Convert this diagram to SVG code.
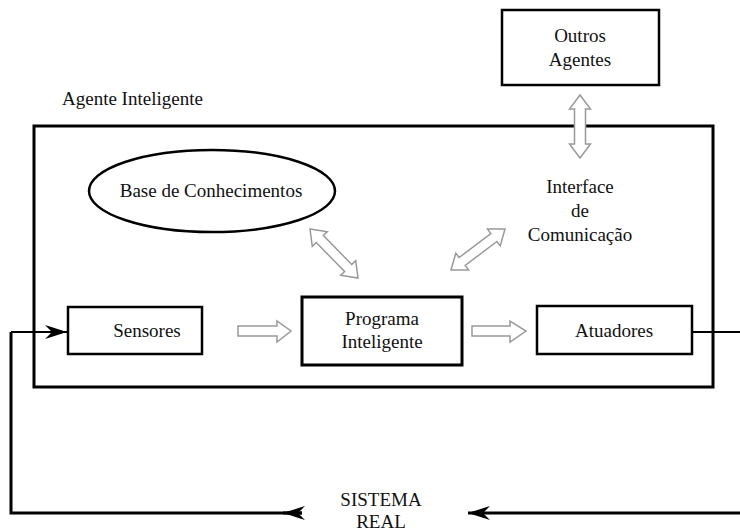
<svg xmlns="http://www.w3.org/2000/svg" width="740" height="531" viewBox="0 0 740 531">
  <defs>
    <style>
      .lbl { font-family: "Liberation Serif", "DejaVu Serif", "Times New Roman", serif; font-size: 19px; fill: #111; }
      .mid { text-anchor: middle; }
      .box { fill: #fff; stroke: #000; stroke-width: 2.5; }
      .thick { stroke-width: 3; }
      .wire { fill: none; stroke: #000; stroke-width: 2; }
      .bus { fill: none; stroke: #000; stroke-width: 3; }
      .hollow { fill: #fff; stroke: #999; stroke-width: 1.5; stroke-linejoin: miter; }
    </style>
    <marker id="head" viewBox="-24 -9 26 18" refX="0" refY="0" markerWidth="26" markerHeight="18" markerUnits="userSpaceOnUse" orient="auto">
      <path d="M0,0 L-22,-7 L-15,0 L-22,7 Z" fill="#000"/>
    </marker>
  </defs>

  <rect width="740" height="531" fill="#fff"/>

  <g font-family="Liberation Serif, DejaVu Serif, serif">
  <!-- agent boundary -->
  <g id="agente">
    <text class="lbl" x="62" y="105">Agente Inteligente</text>
    <rect x="34" y="126" width="679" height="261" fill="none" stroke="#000" stroke-width="3"/>
  </g>

  <g id="outros-agentes">
    <rect class="box" x="502" y="10" width="157" height="75"/>
    <text class="lbl mid" x="580" y="42">Outros</text>
    <text class="lbl mid" x="580" y="66">Agentes</text>
  </g>

  <g id="base-conhecimentos">
    <ellipse cx="212" cy="191" rx="123" ry="41" fill="#fff" stroke="#000" stroke-width="2.5"/>
    <text class="lbl mid" x="211" y="197">Base de Conhecimentos</text>
  </g>

  <g id="interface-comunicacao">
    <text class="lbl mid" x="580" y="193">Interface</text>
    <text class="lbl mid" x="580" y="217">de</text>
    <text class="lbl mid" x="580" y="241">Comunicação</text>
  </g>

  <g id="sensores">
    <rect class="box" x="68" y="307" width="134" height="47"/>
    <text class="lbl mid" x="147" y="337">Sensores</text>
  </g>

  <g id="programa-inteligente">
    <rect class="box thick" x="302" y="297" width="160" height="68"/>
    <text class="lbl mid" x="382" y="325">Programa</text>
    <text class="lbl mid" x="382" y="348">Inteligente</text>
  </g>

  <g id="atuadores">
    <rect class="box" x="537" y="306" width="155" height="48"/>
    <text class="lbl mid" x="614" y="337">Atuadores</text>
  </g>

  <g id="sistema-real">
    <text class="lbl mid" x="381" y="506">SISTEMA</text>
    <text class="lbl mid" x="381" y="528">REAL</text>
  </g>
  </g>

  <g id="connectors">
    <!-- hollow flow arrows inside the agent -->
    <path class="hollow" d="M238,326 L277,326 L277,321 L291,331 L277,342 L277,336 L238,336 Z"/>
    <path class="hollow" d="M472,326 L510,326 L510,321 L526,331 L510,342 L510,336 L472,336 Z"/>
    <!-- two-way hollow arrows (drawn along x, then rotated) -->
    <path class="hollow" transform="translate(310,229) rotate(45.6)" d="M0,0 L14,-10.5 L14,-5 L54.6,-5 L54.6,-10.5 L68.6,0 L54.6,10.5 L54.6,5 L14,5 L14,10.5 Z"/>
    <path class="hollow" transform="translate(451,270) rotate(-37.2)" d="M0,0 L14,-10.5 L14,-5 L53.8,-5 L53.8,-10.5 L67.8,0 L53.8,10.5 L53.8,5 L14,5 L14,10.5 Z"/>
    <path class="hollow" transform="translate(580,95) rotate(90)" d="M0,0 L14,-10.5 L14,-5.5 L49,-5.5 L49,-10.5 L63,0 L49,10.5 L49,5.5 L14,5.5 L14,10.5 Z"/>

    <!-- feedback loop through the real system -->
    <path class="wire" d="M692,332 L740,332"/>
    <path class="bus" d="M740,513 L468,513" marker-end="url(#head)"/>
    <path class="bus" d="M302,513 L11,513 L11,332"/>
    <path class="bus" d="M302,513 L283,513" marker-end="url(#head)"/>
    <path class="wire" d="M11,332 L67,332" marker-end="url(#head)"/>
  </g>
</svg>
